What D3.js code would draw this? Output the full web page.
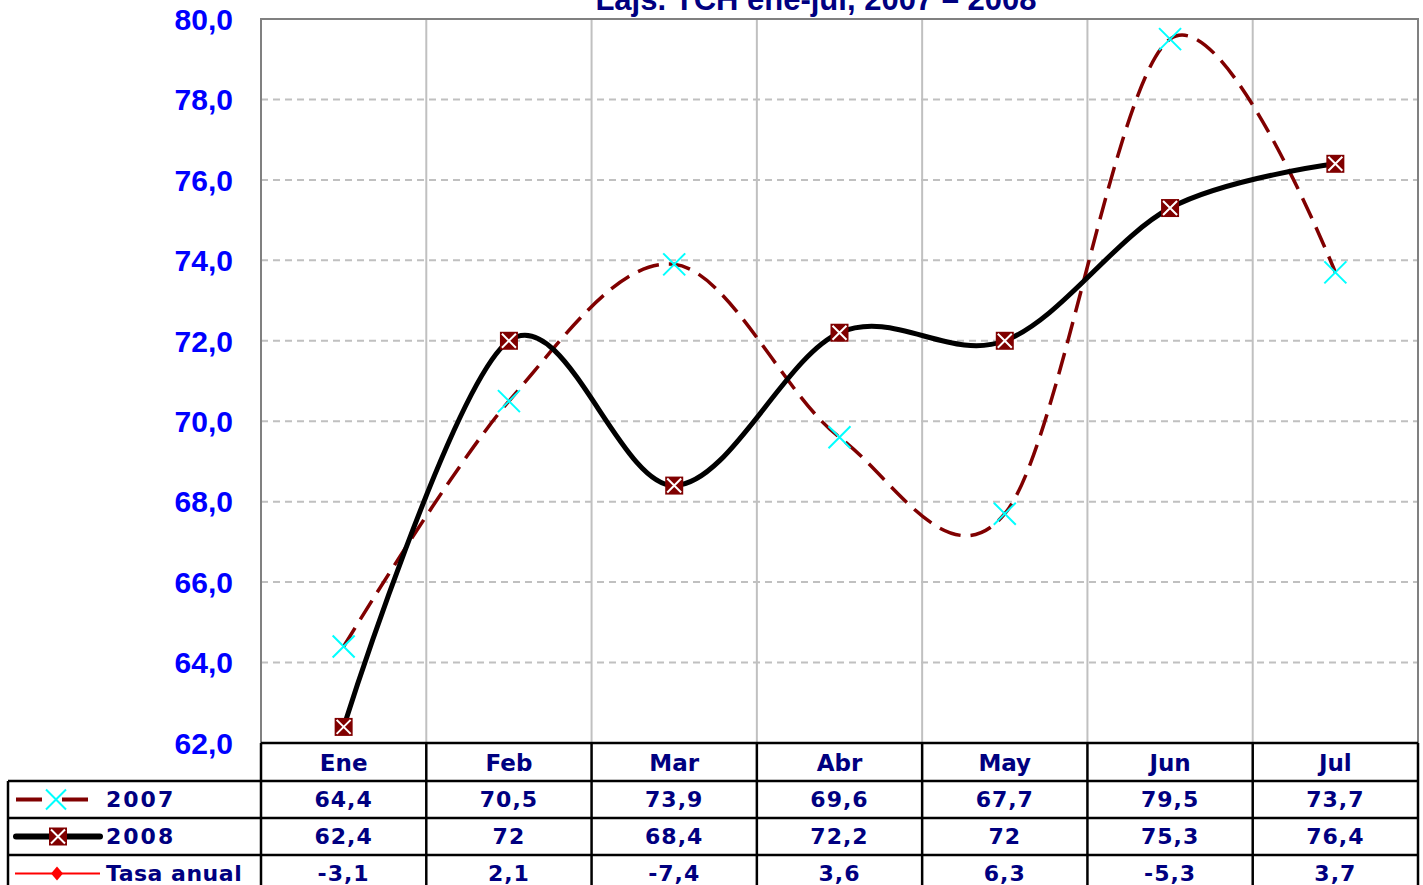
<!DOCTYPE html>
<html>
<head>
<meta charset="utf-8">
<script src="https://cdn.jsdelivr.net/npm/d3@7"></script>
<style>
  body { margin: 0; background: #fff; }
  svg { display: block; }
</style>
</head>
<body>
<script>
// datos del gráfico
const meses = ["Ene", "Feb", "Mar", "Abr", "May", "Jun", "Jul"];
const serie2007 = [64.4, 70.5, 73.9, 69.6, 67.7, 79.5, 73.7];
const serie2008 = [62.4, 72, 68.4, 72.2, 72, 75.3, 76.4];
const tasaAnual = [-3.1, 2.1, -7.4, 3.6, 6.3, -5.3, 3.7];
const yTicks = [62, 64, 66, 68, 70, 72, 74, 76, 78, 80];
const titulo = "Lajs. TCH ene-jul, 2007 – 2008";

const width = 1423, height = 885;
const plot = { left: 261, right: 1418, top: 19, bottom: 743 };
const rowH = 37;
const navy = "#000080";

const svg = d3.select("body").append("svg")
    .attr("width", width)
    .attr("height", height);

const x = d3.scaleBand().domain(meses).range([plot.left, plot.right]);
const y = d3.scaleLinear().domain([62, 80]).range([plot.bottom, plot.top]);
const cx = m => x(m) + x.bandwidth() / 2;
const coma = v => String(v).replace(".", ",");

// titulo (cortado arriba como en el original)
svg.append("text")
    .attr("x", 816).attr("y", 10)
    .attr("text-anchor", "middle")
    .attr("font-family", "Liberation Sans, Arial, sans-serif")
    .attr("font-weight", "bold")
    .attr("font-size", 31)
    .attr("fill", navy)
    .text(titulo);

// rejilla horizontal
svg.append("g").selectAll("line")
    .data(yTicks.filter(t => t > 62))
    .enter().append("line")
    .attr("x1", plot.left).attr("x2", plot.right)
    .attr("y1", d => y(d)).attr("y2", d => y(d))
    .attr("stroke", "#c0c0c0")
    .attr("stroke-width", 2)
    .attr("stroke-dasharray", "7,5");

// rejilla vertical
svg.append("g").selectAll("line")
    .data(meses.slice(1))
    .enter().append("line")
    .attr("x1", d => x(d)).attr("x2", d => x(d))
    .attr("y1", plot.top).attr("y2", plot.bottom)
    .attr("stroke", "#c0c0c0")
    .attr("stroke-width", 2);

// borde del area de trazado
svg.append("path")
    .attr("d", `M${plot.left},${plot.bottom}V${plot.top}H${plot.right}V${plot.bottom}`)
    .attr("fill", "none")
    .attr("stroke", "#808080")
    .attr("stroke-width", 2);

// etiquetas eje Y
svg.append("g").selectAll("text")
    .data(yTicks)
    .enter().append("text")
    .attr("x", 233)
    .attr("y", d => y(d))
    .attr("dy", "0.36em")
    .attr("text-anchor", "end")
    .attr("font-family", "Liberation Sans, Arial, sans-serif")
    .attr("font-weight", "bold")
    .attr("font-size", 30)
    .attr("fill", "#0000ff")
    .text(d => d.toFixed(1).replace(".", ","));

// lineas suavizadas
const line = d3.line()
    .x((d, i) => cx(meses[i]))
    .y(d => y(d))
    .curve(d3.curveCardinal.tension(0));

svg.append("path")
    .datum(serie2007)
    .attr("d", line)
    .attr("fill", "none")
    .attr("stroke", "#800000")
    .attr("stroke-width", 3.5)
    .attr("stroke-dasharray", "22,10");

svg.append("path")
    .datum(serie2008)
    .attr("d", line)
    .attr("fill", "none")
    .attr("stroke", "#000")
    .attr("stroke-width", 5)
    .attr("stroke-linejoin", "round");

// marcadores
function cruz(g, px, py, r, color, w) {
    g.append("path")
        .attr("d", `M${px - r},${py - r}L${px + r},${py + r}M${px - r},${py + r}L${px + r},${py - r}`)
        .attr("stroke", color)
        .attr("stroke-width", w)
        .attr("fill", "none");
}
function cuadro(g, px, py) {
    g.append("rect")
        .attr("x", px - 9).attr("y", py - 9)
        .attr("width", 18).attr("height", 18)
        .attr("fill", "#800000");
    cruz(g, px, py, 7, "#fff", 2);
}

const mk = svg.append("g");
serie2007.forEach((v, i) => cruz(mk, cx(meses[i]), y(v), 11, "#00ffff", 2));
serie2008.forEach((v, i) => cuadro(mk, cx(meses[i]), y(v)));

// tabla de datos
const tabla = svg.append("g");
const tableTop = plot.bottom;
const rows = [
    { nombre: "2007", valores: serie2007, esp: 2 },
    { nombre: "2008", valores: serie2008, esp: 2 },
    { nombre: "Tasa anual", valores: tasaAnual, esp: 0.5 }
];
const fontTabla = "DejaVu Sans, Verdana, sans-serif";

// cabecera meses
tabla.selectAll("text.mes")
    .data(meses)
    .enter().append("text")
    .attr("class", "mes")
    .attr("x", d => cx(d))
    .attr("y", tableTop + rowH / 2 + 1)
    .attr("dy", "0.36em")
    .attr("text-anchor", "middle")
    .attr("font-family", fontTabla)
    .attr("font-weight", "bold")
    .attr("font-size", 23)
    .attr("fill", navy)
    .text(d => d);

rows.forEach((r, ri) => {
    const top = tableTop + rowH * (ri + 1) + 1;
    tabla.selectAll(null)
        .data(r.valores)
        .enter().append("text")
        .attr("x", (d, i) => cx(meses[i]))
        .attr("y", top + rowH / 2)
        .attr("dy", "0.36em")
        .attr("text-anchor", "middle")
        .attr("font-family", fontTabla)
        .attr("font-weight", "bold")
        .attr("font-size", 22)
        .attr("letter-spacing", 1)
        .attr("fill", navy)
        .text(d => coma(d));
    tabla.append("text")
        .attr("x", 106)
        .attr("y", top + rowH / 2)
        .attr("dy", "0.36em")
        .attr("font-family", fontTabla)
        .attr("font-weight", "bold")
        .attr("font-size", 22)
        .attr("letter-spacing", r.esp)
        .attr("fill", navy)
        .text(r.nombre);
});

// claves de leyenda
const ly = i => tableTop + rowH * (i + 1) + 1 + rowH / 2;
tabla.append("line")
    .attr("x1", 16).attr("x2", 89).attr("y1", ly(0)).attr("y2", ly(0))
    .attr("stroke", "#800000").attr("stroke-width", 4)
    .attr("stroke-dasharray", "26,20");
cruz(tabla, 56, ly(0), 10, "#00ffff", 2);

tabla.append("line")
    .attr("x1", 16).attr("x2", 100).attr("y1", ly(1)).attr("y2", ly(1))
    .attr("stroke", "#000").attr("stroke-width", 6)
    .attr("stroke-linecap", "round");
cuadro(tabla, 58, ly(1));

tabla.append("line")
    .attr("x1", 15).attr("x2", 100).attr("y1", ly(2)).attr("y2", ly(2))
    .attr("stroke", "#ff0000").attr("stroke-width", 2);
tabla.append("path")
    .attr("d", "M0,-7L6,0L0,7L-6,0Z")
    .attr("transform", `translate(57,${ly(2)})`)
    .attr("fill", "#ff0000");

// lineas de la tabla
const bordes = tabla.append("g")
    .attr("stroke", "#000")
    .attr("stroke-width", 2.5)
    .attr("fill", "none");
bordes.append("line")
    .attr("x1", plot.left).attr("x2", plot.right)
    .attr("y1", tableTop).attr("y2", tableTop);
[1, 2, 3].forEach(i => {
    bordes.append("line")
        .attr("x1", 8).attr("x2", plot.right)
        .attr("y1", tableTop + rowH * i + 1).attr("y2", tableTop + rowH * i + 1);
});
bordes.append("line")
    .attr("x1", 8).attr("x2", 8)
    .attr("y1", tableTop + rowH + 1).attr("y2", height);
meses.concat(["fin"]).forEach((m, i) => {
    const xx = i < meses.length ? x(m) : plot.right;
    bordes.append("line")
        .attr("x1", xx).attr("x2", xx)
        .attr("y1", tableTop).attr("y2", height);
});
</script>
</body>
</html>
